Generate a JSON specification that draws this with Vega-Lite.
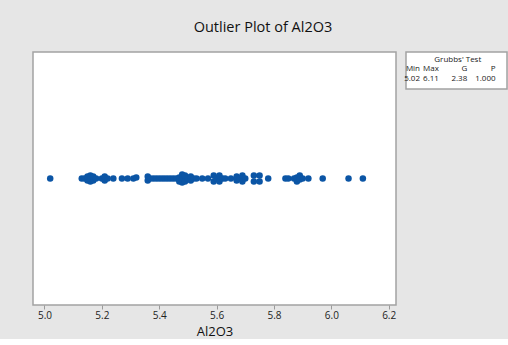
{
  "$schema": "https://vega.github.io/schema/vega-lite/v6.json",
  "background": "#e6e6e6",
  "padding": {"left": 32, "top": 19, "right": 1, "bottom": 0},
  "title": {
    "text": "Outlier Plot of Al2O3",
    "font": "Open Sans",
    "fontSize": 14.5,
    "fontWeight": 500,
    "color": "#111111",
    "anchor": "middle",
    "dx": -7,
    "offset": 16
  },
  "spacing": 6,
  "config": {
    "view": {"fill": "white", "stroke": "#a3a3a3", "strokeWidth": 1.5},
    "font": "Open Sans"
  },
  "hconcat": [
    {
      "width": 363,
      "height": 253,
      "data": {
        "values": [
          {"Al2O3": 5.02, "jit": 0},
          {"Al2O3": 5.13, "jit": 0},
          {"Al2O3": 5.14, "jit": 0},
          {"Al2O3": 5.15, "jit": -2},
          {"Al2O3": 5.15, "jit": 2},
          {"Al2O3": 5.16, "jit": -3},
          {"Al2O3": 5.16, "jit": 0},
          {"Al2O3": 5.16, "jit": 3},
          {"Al2O3": 5.17, "jit": -2},
          {"Al2O3": 5.17, "jit": 2},
          {"Al2O3": 5.18, "jit": 0},
          {"Al2O3": 5.20, "jit": 0},
          {"Al2O3": 5.21, "jit": -2},
          {"Al2O3": 5.21, "jit": 2},
          {"Al2O3": 5.22, "jit": 0},
          {"Al2O3": 5.24, "jit": 0},
          {"Al2O3": 5.27, "jit": 0},
          {"Al2O3": 5.29, "jit": 0},
          {"Al2O3": 5.31, "jit": 0},
          {"Al2O3": 5.32, "jit": 1},
          {"Al2O3": 5.36, "jit": -2},
          {"Al2O3": 5.36, "jit": 2},
          {"Al2O3": 5.37, "jit": 0},
          {"Al2O3": 5.38, "jit": 0},
          {"Al2O3": 5.39, "jit": 0},
          {"Al2O3": 5.40, "jit": 0},
          {"Al2O3": 5.41, "jit": 0},
          {"Al2O3": 5.42, "jit": 0},
          {"Al2O3": 5.43, "jit": 0},
          {"Al2O3": 5.44, "jit": 0},
          {"Al2O3": 5.45, "jit": 0},
          {"Al2O3": 5.46, "jit": 0},
          {"Al2O3": 5.47, "jit": -3},
          {"Al2O3": 5.47, "jit": 1},
          {"Al2O3": 5.48, "jit": -4},
          {"Al2O3": 5.48, "jit": 0},
          {"Al2O3": 5.48, "jit": 4},
          {"Al2O3": 5.49, "jit": -3},
          {"Al2O3": 5.49, "jit": 3},
          {"Al2O3": 5.50, "jit": 0},
          {"Al2O3": 5.51, "jit": -2},
          {"Al2O3": 5.51, "jit": 2},
          {"Al2O3": 5.52, "jit": 0},
          {"Al2O3": 5.53, "jit": 0},
          {"Al2O3": 5.55, "jit": 0},
          {"Al2O3": 5.57, "jit": 0},
          {"Al2O3": 5.59, "jit": -3},
          {"Al2O3": 5.59, "jit": 3},
          {"Al2O3": 5.60, "jit": 0},
          {"Al2O3": 5.61, "jit": -3},
          {"Al2O3": 5.61, "jit": 3},
          {"Al2O3": 5.62, "jit": 0},
          {"Al2O3": 5.63, "jit": 0},
          {"Al2O3": 5.65, "jit": 0},
          {"Al2O3": 5.67, "jit": -2},
          {"Al2O3": 5.67, "jit": 2},
          {"Al2O3": 5.68, "jit": 0},
          {"Al2O3": 5.69, "jit": -3},
          {"Al2O3": 5.69, "jit": 3},
          {"Al2O3": 5.70, "jit": 0},
          {"Al2O3": 5.73, "jit": -3},
          {"Al2O3": 5.73, "jit": 3},
          {"Al2O3": 5.75, "jit": -3},
          {"Al2O3": 5.75, "jit": 3},
          {"Al2O3": 5.78, "jit": 0},
          {"Al2O3": 5.84, "jit": 0},
          {"Al2O3": 5.85, "jit": 0},
          {"Al2O3": 5.87, "jit": 0},
          {"Al2O3": 5.88, "jit": -3},
          {"Al2O3": 5.88, "jit": 1},
          {"Al2O3": 5.89, "jit": 3},
          {"Al2O3": 5.89, "jit": -1},
          {"Al2O3": 5.90, "jit": 0},
          {"Al2O3": 5.92, "jit": 0},
          {"Al2O3": 5.97, "jit": 0},
          {"Al2O3": 6.06, "jit": 0},
          {"Al2O3": 6.11, "jit": 0}
        ]
      },
      "mark": {"type": "point", "filled": true, "size": 42, "opacity": 1, "color": "#0b55a5"},
      "encoding": {
        "x": {
          "field": "Al2O3",
          "type": "quantitative",
          "scale": {"domain": [4.96, 6.2255], "nice": false, "zero": false},
          "axis": {
            "title": "Al2O3",
            "values": [5.0, 5.2, 5.4, 5.6, 5.8, 6.0, 6.2],
            "format": ".1f",
            "domain": false,
            "grid": false,
            "tickColor": "#9a9a9a",
            "tickSize": 4,
            "labelFont": "Open Sans",
            "labelFontSize": 10,
            "labelColor": "#222222",
            "labelPadding": 1,
            "titleFont": "Open Sans",
            "titleFontSize": 13,
            "titleFontWeight": 500,
            "titleColor": "#111111",
            "titlePadding": 5
          }
        },
        "y": {
          "field": "jit",
          "type": "quantitative",
          "scale": {"domain": [-126.5, 126.5], "nice": false, "zero": false},
          "axis": null
        }
      }
    },
    {
      "width": 101,
      "height": 37,
      "data": {
        "values": [
          {"stat": "Min", "value": "5.02"},
          {"stat": "Max", "value": "6.11"},
          {"stat": "G", "value": "2.38"},
          {"stat": "P", "value": "1.000"}
        ]
      },
      "encoding": {
        "x": {
          "field": "stat",
          "type": "nominal",
          "scale": {"type": "point", "domain": ["Min", "_1", "Max", "_2", "_3", "G", "_4", "_5", "P"], "range": [14, 89.6], "padding": 0},
          "axis": null
        }
      },
      "layer": [
        {
          "mark": {"type": "text", "align": "right", "baseline": "middle", "font": "Open Sans", "fontSize": 8, "color": "#222222"},
          "encoding": {
            "y": {"datum": "label", "type": "nominal", "scale": {"type": "point", "domain": ["title", "label", "value"], "range": [7.5, 27], "padding": 0}, "axis": null},
            "text": {"field": "stat"}
          }
        },
        {
          "mark": {"type": "text", "align": "right", "baseline": "middle", "font": "Open Sans", "fontSize": 8, "color": "#222222"},
          "encoding": {
            "y": {"datum": "value", "type": "nominal", "axis": null},
            "text": {"field": "value"}
          }
        },
        {
          "data": {"values": [{"head": "Grubbs' Test", "stat": "_3"}]},
          "mark": {"type": "text", "align": "center", "baseline": "middle", "font": "Open Sans", "fontSize": 8, "color": "#222222"},
          "encoding": {
            "y": {"datum": "title", "type": "nominal", "axis": null},
            "text": {"field": "head"}
          }
        }
      ]
    }
  ]
}
